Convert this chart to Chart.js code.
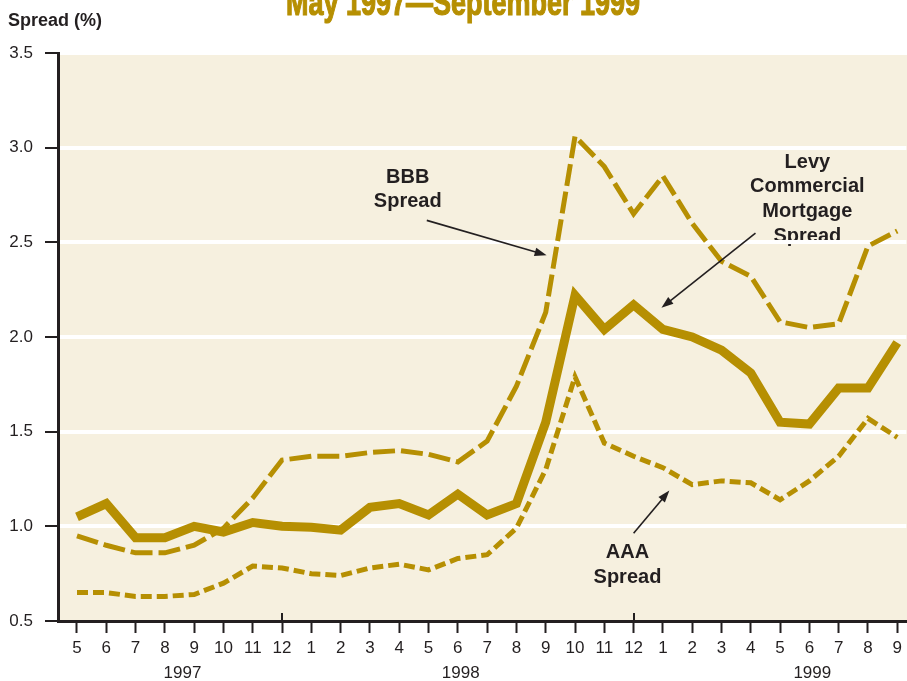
<!DOCTYPE html>
<html><head><meta charset="utf-8">
<script src="https://cdn.jsdelivr.net/npm/chart.js@4/dist/chart.umd.min.js"></script>
<style>html,body{margin:0;padding:0;background:#fff;overflow:hidden;}</style>
</head><body>
<canvas id="c" width="907" height="681"></canvas>
<script>
// ---- data ----
const months = ['5','6','7','8','9','10','11','12','1','2','3','4','5','6','7','8','9','10','11','12','1','2','3','4','5','6','7','8','9'];
const years = ['1997','1998','1999'];
const yearCenters = [3.6, 13.1, 25.1];
const levy = [1.05,1.12,0.94,0.94,1.00,0.97,1.02,1.00,0.995,0.98,1.10,1.12,1.06,1.17,1.06,1.12,1.55,2.22,2.04,2.17,2.04,2.00,1.93,1.81,1.55,1.54,1.73,1.73,1.97];
const bbb  = [0.95,0.90,0.86,0.86,0.90,0.99,1.15,1.35,1.37,1.37,1.39,1.40,1.38,1.34,1.45,1.74,2.13,3.06,2.90,2.65,2.85,2.60,2.40,2.32,2.08,2.05,2.07,2.48,2.56];
const aaa  = [0.65,0.65,0.63,0.63,0.64,0.70,0.79,0.78,0.75,0.74,0.78,0.80,0.77,0.83,0.85,0.99,1.30,1.79,1.44,1.37,1.31,1.22,1.24,1.23,1.14,1.24,1.37,1.57,1.47];
const yTicks = [0.5,1.0,1.5,2.0,2.5,3.0,3.5];
const yearTickIdx = [7, 19];

const titleText = 'May 1997\u2014September 1999';
const yTitle = 'Spread (%)';
const labels = [
  {lines:['BBB','Spread'], x:11.29, y:2.816, ax1:11.94, ay1:2.616, ax2:16.03, ay2:2.432},
  {lines:['Levy','Commercial','Mortgage','Spread'], x:24.93, y:2.895, ax1:23.16, ay1:2.549, ax2:19.95, ay2:2.154},
  {lines:['AAA','Spread'], x:18.79, y:0.832, ax1:19.0, ay1:0.963, ax2:20.22, ay2:1.189}
];

const GOLD = '#b68f02';
const INK = '#231f20';
const CREAM = '#f6f0df';
const FONT = '"Liberation Sans", Arial, Helvetica, sans-serif';

const toPts = arr => arr.map((v,i)=>({x:i,y:v}));

function arrow(ctx, x1, y1, x2, y2){
  const a = Math.atan2(y2-y1, x2-x1), L = 12, W = 4.2;
  ctx.save();
  ctx.strokeStyle = INK; ctx.fillStyle = INK; ctx.lineWidth = 1.6;
  ctx.beginPath(); ctx.moveTo(x1,y1);
  ctx.lineTo(x2 - Math.cos(a)*L*0.8, y2 - Math.sin(a)*L*0.8); ctx.stroke();
  ctx.beginPath();
  ctx.moveTo(x2,y2);
  ctx.lineTo(x2 - Math.cos(a)*L + Math.sin(a)*W, y2 - Math.sin(a)*L - Math.cos(a)*W);
  ctx.lineTo(x2 - Math.cos(a)*L - Math.sin(a)*W, y2 - Math.sin(a)*L + Math.cos(a)*W);
  ctx.closePath(); ctx.fill();
  ctx.restore();
}

const decor = {
  id:'decor',
  beforeDraw(chart){
    const {ctx, chartArea:a, scales:{x,y}} = chart;
    ctx.save();
    ctx.fillStyle = '#ffffff'; ctx.fillRect(0,0,chart.width,chart.height);
    ctx.fillStyle = CREAM; ctx.fillRect(a.left, a.top+2, chart.width-a.left, a.bottom-a.top-2);
    // annotation texts
    ctx.fillStyle = INK; ctx.font = 'bold 20px ' + FONT;
    ctx.textAlign = 'center'; ctx.textBaseline = 'alphabetic';
    labels.forEach(l=>{
      const px = x.getPixelForValue(l.x), py = y.getPixelForValue(l.y);
      l.lines.forEach((t,i)=>ctx.fillText(t, px, py + i*24.8));
    });
    ctx.restore();
  },
  afterDraw(chart){
    const {ctx, chartArea:a, scales:{x,y}} = chart;
    ctx.save();
    // arrows
    labels.forEach(l=>arrow(ctx, x.getPixelForValue(l.ax1), y.getPixelForValue(l.ay1), x.getPixelForValue(l.ax2), y.getPixelForValue(l.ay2)));
    // year separator ticks above axis
    ctx.strokeStyle = INK; ctx.lineWidth = 2;
    yearTickIdx.forEach(i=>{
      const px = Math.round(x.getPixelForValue(i)) ;
      ctx.beginPath(); ctx.moveTo(px, a.bottom-8); ctx.lineTo(px, a.bottom); ctx.stroke();
    });
    // years
    ctx.fillStyle = INK; ctx.font = '17px ' + FONT; ctx.textAlign='center'; ctx.textBaseline='alphabetic';
    years.forEach((t,i)=>ctx.fillText(t, x.getPixelForValue(yearCenters[i]), 678));
    // y title
    ctx.font = 'bold 18px ' + FONT; ctx.textAlign='left';
    ctx.fillText(yTitle, 8, 26);
    // title
    ctx.font = 'bold 37px "Liberation Sans Narrow", ' + FONT;
    const w = ctx.measureText(titleText).width;
    ctx.translate(463, 15);
    ctx.scale(354 / w, 1);
    ctx.fillStyle = GOLD; ctx.textAlign='center';
    ctx.lineWidth = 1.2; ctx.strokeStyle = GOLD;
    ctx.fillText(titleText, 0, 0);
    ctx.strokeText(titleText, 0, 0);
    ctx.restore();
  }
};

new Chart(document.getElementById('c'), {
  type:'line',
  data:{
    datasets:[
      {label:'Levy Commercial Mortgage Spread', data:toPts(levy), borderColor:GOLD, borderWidth:9, pointRadius:0, tension:0, borderJoinStyle:'miter', borderCapStyle:'butt'},
      {label:'BBB Spread', data:toPts(bbb), borderColor:GOLD, borderWidth:5, borderDash:[22,6], pointRadius:0, tension:0, borderJoinStyle:'miter'},
      {label:'AAA Spread', data:toPts(aaa), borderColor:GOLD, borderWidth:5, borderDash:[11,5], pointRadius:0, tension:0, borderJoinStyle:'miter'}
    ]
  },
  options:{
    responsive:false, devicePixelRatio:1, animation:false,
    layout:{padding:{top:53, left:0, right:0, bottom:0}},
    plugins:{legend:{display:false}, tooltip:{enabled:false}, title:{display:false}},
    scales:{
      x:{
        type:'linear', min:-0.648, max:28.31,
        afterBuildTicks(s){ s.ticks = months.map((m,i)=>({value:i})); },
        afterFit(s){ s.height = 60; },
        ticks:{ autoSkip:false, maxRotation:0, color:INK, font:{size:17, family:FONT}, padding:5,
          callback:(v)=>months[v] },
        grid:{ drawOnChartArea:false, drawTicks:true, tickLength:12, tickColor:INK, tickWidth:2 },
        border:{ display:true, color:INK, width:3 }
      },
      y:{
        min:0.5, max:3.5,
        afterBuildTicks(s){ s.ticks = yTicks.map(v=>({value:v})); },
        afterFit(s){ s.width = 58; },
        ticks:{ color:INK, font:{size:17, family:FONT}, padding:12, callback:(v)=>Number(v).toFixed(1) },
        grid:{ color:(c)=> (c.tick && c.tick.value>0.5 && c.tick.value<3.5) ? '#ffffff' : 'rgba(0,0,0,0)',
               lineWidth:4, tickColor:INK, tickWidth:2, tickLength:13, drawTicks:true },
        border:{ display:true, color:INK, width:3 }
      }
    }
  },
  plugins:[decor]
});
</script>
</body></html>
